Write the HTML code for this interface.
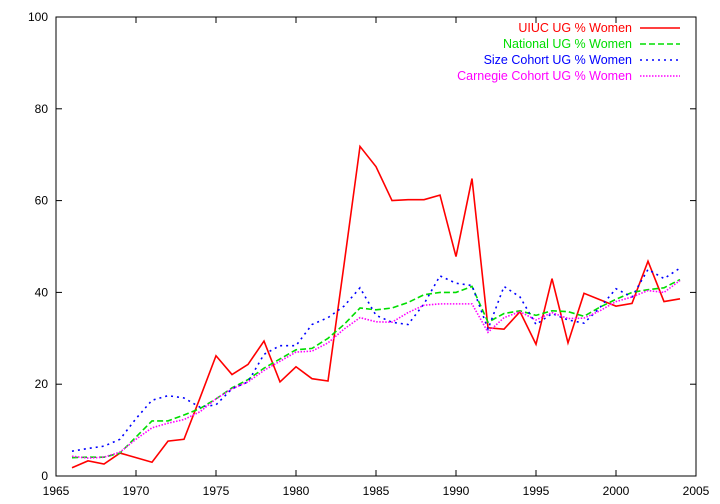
<!DOCTYPE html>
<html><head><meta charset="utf-8"><style>
body{margin:0;background:#fff}
svg{display:block;font-family:"Liberation Sans",sans-serif}
</style></head><body>
<svg id="chart" width="720" height="504" xmlns="http://www.w3.org/2000/svg">
<rect x="56" y="17" width="640" height="459" fill="none" stroke="#000" stroke-width="1"/>
<g id="axes"></g><g id="series"></g><g id="legend"></g>
</svg>
<script>
const years=[1966,1967,1968,1969,1970,1971,1972,1973,1974,1975,1976,1977,1978,1979,1980,1981,1982,1983,1984,1985,1986,1987,1988,1989,1990,1991,1992,1993,1994,1995,1996,1997,1998,1999,2000,2001,2002,2003,2004];
const uiuc=[1.8,3.3,2.6,5.0,4.0,3.0,7.6,8.0,17,26.2,22.1,24.3,29.4,20.5,23.8,21.2,20.7,46,71.8,67.4,60,60.2,60.2,61.2,47.8,64.8,32.3,32,35.8,28.7,43,29,39.8,38.4,37,37.6,46.8,38,38.6];
const national=[4.0,4.1,4.1,5,8.5,12,12,13.3,14.7,16.8,19.2,21,23.5,25.5,27.5,27.8,30,33,36.6,36.2,36.6,37.8,39.5,40,40,41.3,33.5,35.4,36,35,36,35.8,34.8,36.8,38.5,40,40.6,41,42.8];
const sizeCohort=[5.4,6.0,6.5,8,12.5,16.5,17.5,17,15,15.5,19,20.5,26.5,28.4,28.4,33,34.5,37,41,35,33.5,33,37.5,43.6,42,41.5,32,41.3,39,33,35.4,34,33.3,36.7,40.8,39,45,43,45.3];
const carnegie=[4.3,3.9,4.1,5.2,8,10.5,11.5,12.3,14,16.8,19,20.5,23,25,27,27.2,29,32,34.5,33.6,33.5,35.6,37.2,37.5,37.5,37.5,31.3,34.5,35.8,34,35.6,34.3,34.4,36,38,39,40.4,40,42.6];
const xTicks=[1965,1970,1975,1980,1985,1990,1995,2000,2005];
const yTicks=[0,20,40,60,80,100];
const labels=["UIUC UG % Women","National UG % Women","Size Cohort UG % Women","Carnegie Cohort UG % Women"];
const NS="http://www.w3.org/2000/svg";
const X=v=>56+(v-1965)*640/40, Y=v=>476-v*459/100;
const axes=document.getElementById('axes');
function mk(tag,attrs,parent){const e=document.createElementNS(NS,tag);for(const k in attrs)e.setAttribute(k,attrs[k]);parent.appendChild(e);return e;}
xTicks.forEach(t=>{
  const l=mk('line',{x1:X(t),x2:X(t),y1:476,y2:470,stroke:'#000'},axes);
  
  
  const l2=mk('line',{x1:X(t),x2:X(t),y1:17,y2:23,stroke:'#000'},axes);
  
  
  const tx=mk('text',{x:X(t),y:495,'text-anchor':'middle','font-size':12},axes);tx.textContent=t;
  
  
});
yTicks.forEach(t=>{
  const l=mk('line',{x1:56,x2:62,y1:Y(t),y2:Y(t),stroke:'#000'},axes);
  
  
  const l2=mk('line',{x1:690,x2:696,y1:Y(t),y2:Y(t),stroke:'#000'},axes);
  
  
  const tx=mk('text',{x:48,y:Y(t)+4,'text-anchor':'end','font-size':12},axes);tx.textContent=t;
  
  
});
const styles=[{c:'#ff0000',d:'',n:'uiuc-line'},{c:'#00dd00',d:'6 3',n:'national-line'},{c:'#0000ff',d:'2 4',n:'size-cohort-line'},{c:'#ff00ff',d:'1.5 1.5',n:'carnegie-line'}];
const sg=document.getElementById('series'), lg=document.getElementById('legend');
[uiuc,national,sizeCohort,carnegie].forEach((s,i)=>{
  const st=styles[i];
  const p=mk('polyline',{points:s.map((v,j)=>X(years[j])+','+Y(v)).join(' '),fill:'none',stroke:st.c,'stroke-width':1.6,'stroke-dasharray':st.d},sg);
  
  
  const y=28+i*16;
  const t=mk('text',{x:632,y:y+4,'text-anchor':'end','font-size':12.5,fill:st.c},lg);t.textContent=labels[i];
  
  
  const l=mk('line',{x1:640,x2:680,y1:y,y2:y,stroke:st.c,'stroke-width':1.6,'stroke-dasharray':st.d},lg);
  
  
});
</script>
</body></html>
